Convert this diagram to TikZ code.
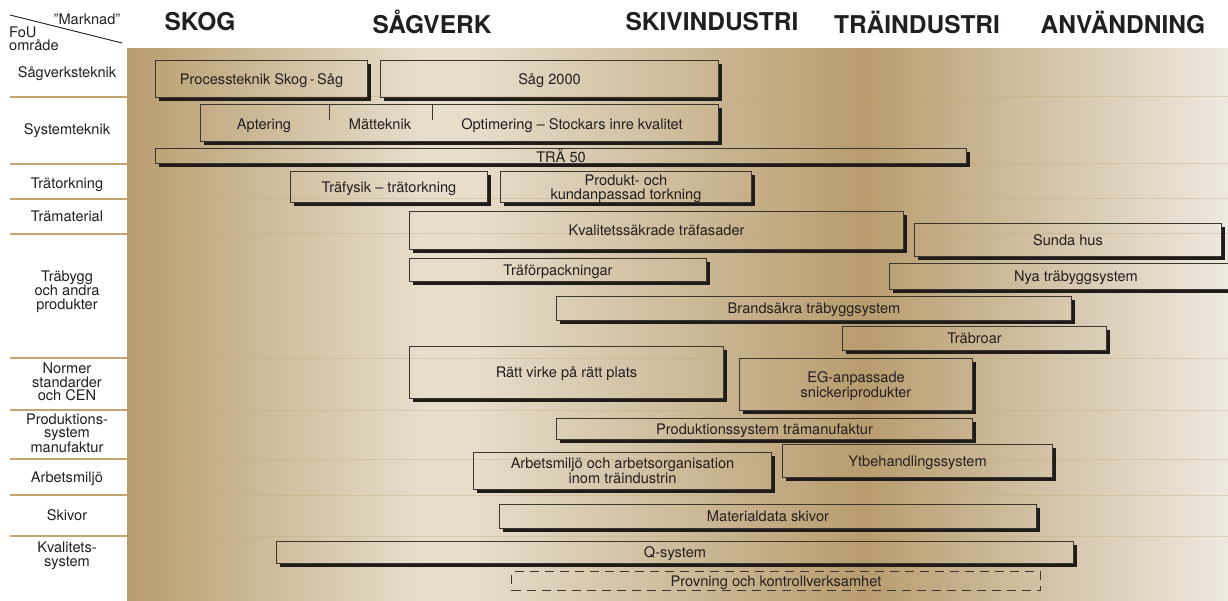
\documentclass[tikz,border=0pt]{standalone}
\usepackage{fontspec}
\setmainfont{TeX Gyre Heros}
\usetikzlibrary{calc}
\definecolor{ink}{RGB}{35,31,32}
\definecolor{edge}{RGB}{60,54,48}
\definecolor{shadowc}{RGB}{30,27,25}
\definecolor{bgdark}{RGB}{184,156,110}
\definecolor{bglight}{RGB}{231,222,204}
\definecolor{bgright}{RGB}{238,233,223}
\definecolor{rowtan}{RGB}{196,165,112}
\pgfdeclarehorizontalshading{woodbg}{100bp}{color(0bp)=(bgdark); color(25bp)=(bgdark); color(38.5bp)=(bglight); color(40.5bp)=(bglight); color(58.5bp)=(bgdark); color(75bp)=(bgright); color(100bp)=(bgright)}

\begin{document}
\begin{tikzpicture}[x=1pt,y=-1pt]
    \tikzstyle{lab}=[font=\fontsize{14.6}{13.5}\selectfont,text=ink,align=center,inner sep=0pt,text depth=0pt]
    \tikzstyle{head}=[font=\fontsize{24.5}{24}\selectfont\bfseries,text=ink,inner sep=0pt]
    \tikzstyle{proj}=[draw=edge,line width=1pt,anchor=north west,inner sep=0pt,font=\fontsize{14.6}{13.5}\selectfont,text=ink,align=center,text depth=0pt]
    \tikzstyle{plan}=[proj,dash pattern=on 9pt off 6pt]
    \tikzstyle{shadow}=[draw=shadowc,line width=3.2pt]
    \tikzstyle{divider}=[draw=edge,line width=1pt]

    \useasboundingbox (0,0) rectangle (1228,601);
    \fill[white] (0,0) rectangle (1228,601);
    \shade[shading=woodbg] (127,49) rectangle (1228,601);

    \foreach \ry in {97,164,199,234,358,410,459,495,536} {
        \draw[rowtan,line width=1.3pt] (10,\ry) -- (127,\ry);
        \draw[rowtan,opacity=0.35,line width=1pt] (127,\ry) -- (1228,\ry);
    }

    % corner
    \draw[ink,line width=0.9pt] (10,15) -- (122,43);
    \node[lab] (mark) at (87,19) {”Marknad”};
    \node[lab,anchor=west] (fou) at (9,32) {FoU};
    \node[lab,anchor=west] (omr) at (9,45) {område};

    \node[head] (skog) at (200,22) {SKOG};
    \node[head] (sagv) at (432,22) {SÅGVERK};
    \node[head] (skiv) at (712,22) {SKIVINDUSTRI};
    \node[head] (trai) at (917,22) {TRÄINDUSTRI};
    \node[head] (anvn) at (1123,22) {ANVÄNDNING};

    \node[lab] (r1) at (67,72) {Sågverksteknik};
    \node[lab] (r2) at (67,129) {Systemteknik};
    \node[lab] (r3) at (67,183) {Trätorkning};
    \node[lab] (r4) at (67,216) {Trämaterial};
    \node[lab] (r5) at (67,290) {Träbygg\\och andra\\produkter};
    \node[lab] (r6) at (67,382) {Normer\\standarder\\och CEN};
    \node[lab] (r7) at (67,433) {Produktions-\\system\\manufaktur};
    \node[lab] (r8) at (67,477) {Arbetsmiljö};
    \node[lab] (r9) at (67,515) {Skivor};
    \node[lab] (r10) at (67,554) {Kvalitets-\\system};

    \node[proj,minimum width=212pt,minimum height=37pt] (proc) at (155,60) {Processteknik Skog\,-\,Såg};
    \node[proj,minimum width=338pt,minimum height=37pt] (sag) at (380,60) {Såg 2000};
    \node[proj,minimum width=518pt,minimum height=37pt] (syst) at (200,104) {};
    \node[lab] (apt) at (264,124) {Aptering};
    \node[lab] (matt) at (380,124) {Mätteknik};
    \node[lab] (opt) at (572,124) {Optimering – Stockars inre kvalitet};
    \draw[divider] (syst.north west) ++(129,0) -- ++(0,16);
    \draw[divider] (syst.north west) ++(232,0) -- ++(0,16);
    \node[proj,minimum width=811pt,minimum height=15pt] (tra) at (155,148) {TRÄ 50};
    \node[proj,minimum width=197pt,minimum height=31pt] (fys) at (290,171) {Träfysik – trätorkning};
    \node[proj,minimum width=251pt,minimum height=31pt] (tork) at (500,171) {Produkt- och\\kundanpassad torkning};
    \node[proj,minimum width=494pt,minimum height=38pt] (fasad) at (409,211) {Kvalitetssäkrade träfasader};
    \node[proj,minimum width=307pt,minimum height=33pt] (sunda) at (914,223) {Sunda hus};
    \node[proj,minimum width=297pt,minimum height=23pt] (forp) at (409,258) {Träförpackningar};
    \node[proj,minimum width=373pt,minimum height=26pt] (nya) at (889,263) {Nya träbyggsystem};
    \node[proj,minimum width=515pt,minimum height=24pt] (brand) at (556,296) {Brandsäkra träbyggsystem};
    \node[proj,minimum width=264pt,minimum height=24pt] (broar) at (842,326) {Träbroar};
    \node[proj,minimum width=314pt,minimum height=52pt] (ratt) at (409,346) {Rätt virke på rätt plats};
    \node[proj,minimum width=233pt,minimum height=52pt] (eg) at (739,358) {EG-anpassade\\snickeriprodukter};
    \node[proj,minimum width=416pt,minimum height=21pt] (prod) at (556,418) {Produktionssystem trämanufaktur};
    \node[proj,minimum width=298pt,minimum height=37pt] (arb) at (473,452) {Arbetsmiljö och arbetsorganisation\\inom träindustrin};
    \node[proj,minimum width=270pt,minimum height=33pt] (ytb) at (782,444) {Ytbehandlingssystem};
    \node[proj,minimum width=537pt,minimum height=24pt] (mat) at (499,504) {Materialdata skivor};
    \node[proj,minimum width=797pt,minimum height=22pt] (qsys) at (276,541) {Q-system};
    \node[plan,minimum width=529pt,minimum height=19pt] (prov) at (511,571) {Provning och kontrollverksamhet};

    \draw[shadow] ($(proc.north east)+(1.6,4)$) |- ($(proc.south west)+(4,1.6)$);
    \draw[shadow] ($(sag.north east)+(1.6,4)$) |- ($(sag.south west)+(4,1.6)$);
    \draw[shadow] ($(syst.north east)+(1.6,4)$) |- ($(syst.south west)+(4,1.6)$);
    \draw[shadow] ($(tra.north east)+(1.6,4)$) |- ($(tra.south west)+(4,1.6)$);
    \draw[shadow] ($(fys.north east)+(1.6,4)$) |- ($(fys.south west)+(4,1.6)$);
    \draw[shadow] ($(tork.north east)+(1.6,4)$) |- ($(tork.south west)+(4,1.6)$);
    \draw[shadow] ($(fasad.north east)+(1.6,4)$) |- ($(fasad.south west)+(4,1.6)$);
    \draw[shadow] ($(sunda.north east)+(1.6,4)$) |- ($(sunda.south west)+(4,1.6)$);
    \draw[shadow] ($(forp.north east)+(1.6,4)$) |- ($(forp.south west)+(4,1.6)$);
    \draw[shadow] ($(nya.north east)+(1.6,4)$) |- ($(nya.south west)+(4,1.6)$);
    \draw[shadow] ($(brand.north east)+(1.6,4)$) |- ($(brand.south west)+(4,1.6)$);
    \draw[shadow] ($(broar.north east)+(1.6,4)$) |- ($(broar.south west)+(4,1.6)$);
    \draw[shadow] ($(ratt.north east)+(1.6,4)$) |- ($(ratt.south west)+(4,1.6)$);
    \draw[shadow] ($(eg.north east)+(1.6,4)$) |- ($(eg.south west)+(4,1.6)$);
    \draw[shadow] ($(prod.north east)+(1.6,4)$) |- ($(prod.south west)+(4,1.6)$);
    \draw[shadow] ($(arb.north east)+(1.6,4)$) |- ($(arb.south west)+(4,1.6)$);
    \draw[shadow] ($(ytb.north east)+(1.6,4)$) |- ($(ytb.south west)+(4,1.6)$);
    \draw[shadow] ($(mat.north east)+(1.6,4)$) |- ($(mat.south west)+(4,1.6)$);
    \draw[shadow] ($(qsys.north east)+(1.6,4)$) |- ($(qsys.south west)+(4,1.6)$);

\end{tikzpicture}
\end{document}
